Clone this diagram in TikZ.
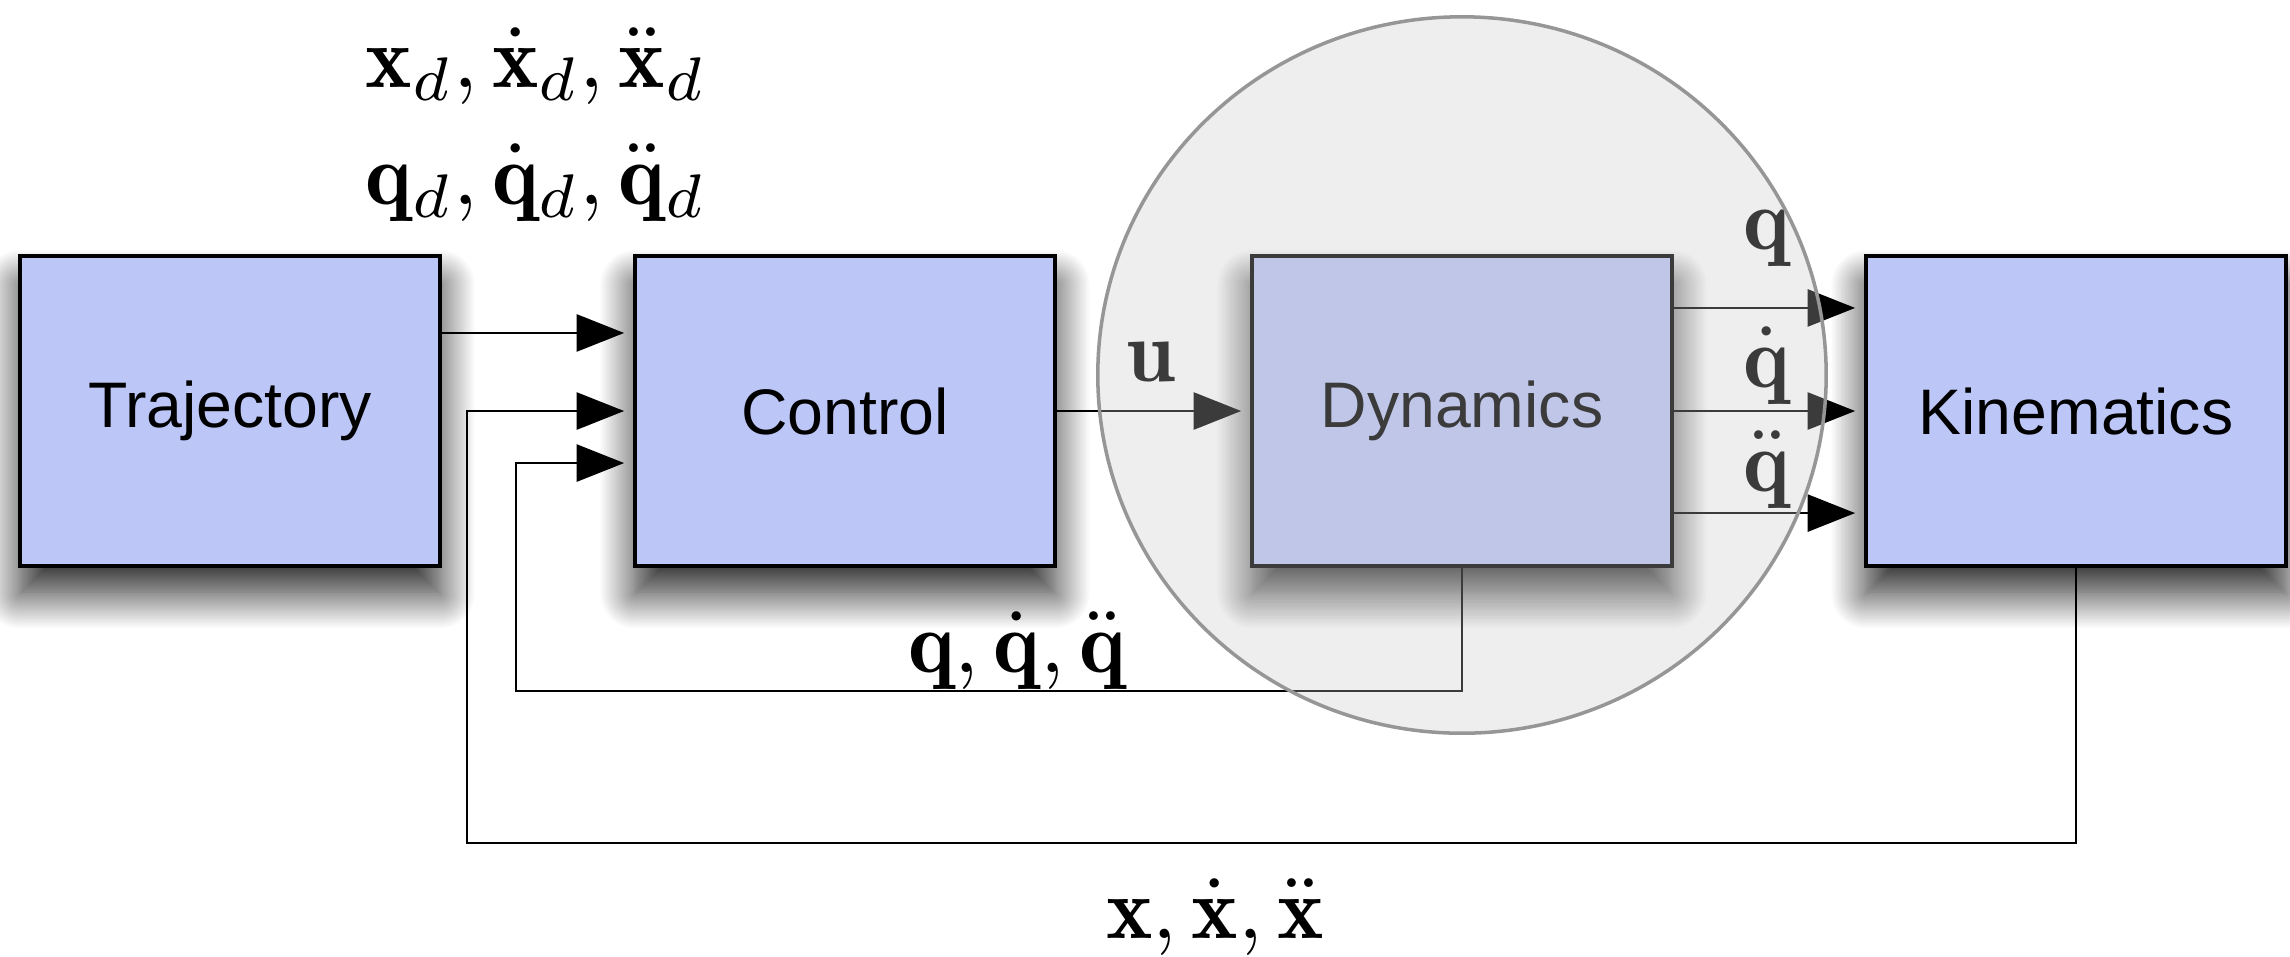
\documentclass[tikz,border=0pt]{standalone}
\usepackage{fontspec}
\usepackage{amsmath}
\newfontfamily\boxfont{Liberation Sans}
\usetikzlibrary{arrows.meta,shadows.blur,shapes.geometric}
\definecolor{boxblue}{RGB}{188,198,247}
\definecolor{circfill}{RGB}{198,198,198}
\definecolor{circline}{RGB}{150,150,150}
\begin{document}
\begin{tikzpicture}[x=0.01cm,y=-0.01cm,
  blk/.style={draw=black, line width=1.1pt, fill=boxblue, minimum width=4.2cm,
    minimum height=3.09cm, inner sep=0pt, font=\boxfont\fontsize{18.3}{22}\selectfont,
    blur shadow={shadow xshift=0pt, shadow yshift=-8pt, shadow blur radius=10pt,
      shadow opacity=85, shadow blur steps=25}},
  con/.style={line width=0.8pt, -{Triangle[length=13.5pt,width=10.5pt]}, shorten >=2.5pt},
  lbl/.style={scale=2.5, inner sep=0pt},
  grpstyle/.style={ellipse, minimum width=7.28cm, minimum height=7.16cm, inner sep=0pt,
    fill=circfill, fill opacity=0.3, draw=circline, draw opacity=1, line width=1pt}
]
\useasboundingbox (0,0) rectangle (2290,956);

% blocks
\node[blk] (traj) at (230,411) {Trajectory};
\node[blk] (ctrl) at (845,411) {Control};
\node[blk] (dyn)  at (1462,411) {Dynamics};
\node[blk] (kin)  at (2076,411) {Kinematics};

% feedback corners
\coordinate (fb1) at (516,691);
\coordinate (fb2) at (467,843);

% connectors
\draw[con] ([yshift=0.78cm]traj.east) -- ([yshift=0.78cm]ctrl.west);
\draw[con] (kin.south) |- (fb2) |- (ctrl.west);
\draw[con] (dyn.south) |- (fb1) |- ([yshift=-0.52cm]ctrl.west);
\draw[con] (ctrl.east) -- (dyn.west);
\draw[con] ([yshift=1.03cm]dyn.east) -- ([yshift=1.03cm]kin.west);
\draw[con] (dyn.east) -- (kin.west);
\draw[con] ([yshift=-1.02cm]dyn.east) -- ([yshift=-1.02cm]kin.west);

% labels
\node[lbl] (l1) at (536,66) {$\mathbf{x}_d,\dot{\mathbf{x}}_d,\ddot{\mathbf{x}}_d$};
\node[lbl] (l2) at (536,183) {$\mathbf{q}_d,\dot{\mathbf{q}}_d,\ddot{\mathbf{q}}_d$};
\node[lbl] (lu) at (1151,362) {$\mathbf{u}$};
\node[lbl] (lq) at (1767,238) {$\mathbf{q}$};
\node[lbl] (lqd) at (1767,366) {$\dot{\mathbf{q}}$};
\node[lbl] (lqdd) at (1767,470) {$\ddot{\mathbf{q}}$};
\node[lbl] (lfb1) at (1017,651) {$\mathbf{q},\dot{\mathbf{q}},\ddot{\mathbf{q}}$};
\node[lbl] (lfb2) at (1215,917) {$\mathbf{x},\dot{\mathbf{x}},\ddot{\mathbf{x}}$};

% translucent group circle
\node[grpstyle] (grp) at (1462,375) {};
\end{tikzpicture}
\end{document}
